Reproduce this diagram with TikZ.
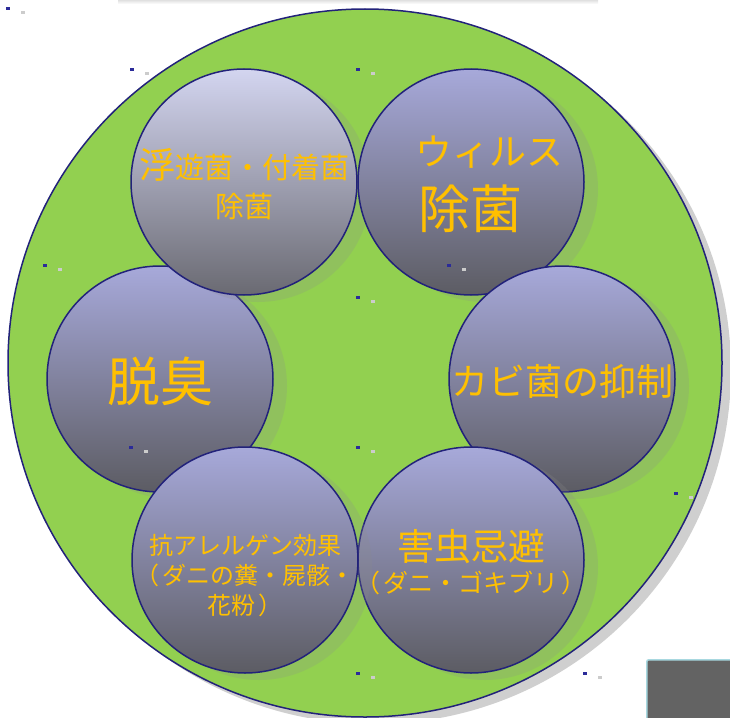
\documentclass[tikz,border=0pt]{standalone}
\usepackage{fontspec}
\usetikzlibrary{shapes.geometric}
\newfontfamily\jp{Noto Sans CJK JP}
\definecolor{biggreen}{HTML}{92D050}
\definecolor{navy}{HTML}{22227A}
\definecolor{gold}{HTML}{FFC000}
\definecolor{lavtop}{HTML}{A7A9DA}
\definecolor{lavbot}{HTML}{5C5C63}
\definecolor{lighttop}{HTML}{D3D5F0}
\definecolor{lightbot}{HTML}{6A6A72}
\definecolor{dotblue}{HTML}{2B2B99}
\definecolor{boxedge}{HTML}{A8D8E0}
\tikzset{
  bubble/.style={circle, minimum size=226pt, inner sep=0pt, draw=navy, line width=1.5pt, top color=lavtop, bottom color=lavbot},
  lightbubble/.style={bubble, top color=lighttop, bottom color=lightbot},
  bshadow/.style={fill=black!45, fill opacity=0.22},
  jlabel/.style={text=gold, align=center, inner sep=0pt},
  selmark/.style={fill=dotblue},
  graymark/.style={fill=black!20},
}
\begin{document}
\begin{tikzpicture}[x=1pt,y=-1pt]
\useasboundingbox (0,0) rectangle (730,717);
% faint shadow strip at top
\shade[top color=black!12, bottom color=white] (118,0) rectangle (598,4);
% big circle with shadow
\fill[black!19] (374,370) ellipse [x radius=357pt, y radius=354pt];
\node[ellipse, minimum width=714pt, minimum height=708pt, inner sep=0pt, fill=biggreen, draw=navy, line width=1.5pt] (big) at (365,363) {};
% left
\fill[bshadow] (174,386) circle [radius=113pt];
\node[bubble] (cl) at (160,379) {};
% top-left
\fill[bshadow] (258,189) circle [radius=113pt];
\node[lightbubble] (ctl) at (244,182) {};
% top-right
\fill[bshadow] (485,189) circle [radius=113pt];
\node[bubble] (ctr) at (471,182) {};
% right
\fill[bshadow] (576,386) circle [radius=113pt];
\node[bubble] (cr) at (562,379) {};
% bottom-right
\fill[bshadow] (485,567) circle [radius=113pt];
\node[bubble] (cbr) at (471,560) {};
% bottom-left
\fill[bshadow] (259,567) circle [radius=113pt];
\node[bubble] (cbl) at (245,560) {};
% labels
\node[jlabel, font=\jp\fontsize{29}{39}\selectfont] (t1) at (244,184) {{\fontsize{36}{39}\selectfont 浮}遊菌・付着菌\\除菌};
\node[jlabel, font=\jp\fontsize{37}{40}\selectfont] (t2a) at (489,152) {ウィルス};
\node[jlabel, font=\jp\fontsize{52}{56}\selectfont] (t2b) at (470,209) {除菌};
\node[jlabel, font=\jp\fontsize{37}{40}\selectfont] (t3) at (562,381) {カビ菌の抑制};
\node[jlabel, font=\jp\fontsize{53}{56}\selectfont] (t4) at (160,381) {脱臭};
\node[jlabel, font=\jp\fontsize{37}{40}\selectfont] (t5a) at (471,547) {害虫忌避};
\node[jlabel, font=\jp\fontsize{25}{28}\selectfont] (t5b) at (471,583) {（\hspace{3pt}ダニ・ゴキブリ\hspace{3pt}）};
\node[jlabel, font=\jp\fontsize{24}{30}\selectfont] (t6) at (245,576) {抗アレルゲン効果\\（\hspace{3pt}ダニの糞・屍骸・\\花粉\hspace{3pt}）};
% corner box
\node[draw=boxedge, line width=1.5pt, fill=black!61, rounded corners=2pt, minimum width=100pt, minimum height=80pt, anchor=north west] (box) at (646,659) {};
% selection marks
\foreach \px/\py in {8/9,132/69,358/69,45/265,449/265,358/297,131/447,358/447,676/493,358/673,585/673}{
  \fill[selmark] (\px-2,\py-1.5) rectangle (\px+2,\py+1.5);
  \fill[graymark] (\px+13,\py+2.5) rectangle (\px+17,\py+5.5);
}
\end{tikzpicture}
\end{document}
